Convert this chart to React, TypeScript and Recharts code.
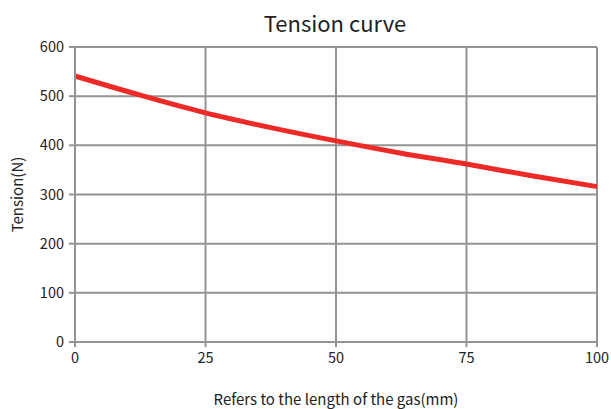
import React from "react";
import { LineChart, Line, XAxis, YAxis, CartesianGrid, Label } from "recharts";

const lengths = [0, 12.5, 25, 37.5, 50, 62.5, 75, 87.5, 100];
const tensions = [541, 502, 466, 436, 409, 384, 362, 338, 316];
const xTicks = [0, 25, 50, 75, 100];
const yTicks = [0, 100, 200, 300, 400, 500, 600];

const data = lengths.map((x, i) => ({ x, tension: tensions[i] }));

const FONT = '"Noto Sans CJK SC", "Noto Sans", sans-serif';
const GRID = "#939393";

export default function App() {
  return (
    <div style={{ position: "absolute", left: 0, top: 0, width: 611, height: 409, background: "#fff", fontFamily: FONT }}>
      <div
        style={{
          position: "absolute",
          left: 0,
          width: 670,
          top: 7,
          textAlign: "center",
          fontSize: 22,
          color: "#222",
          lineHeight: "30px",
        }}
      >
        Tension curve
      </div>
      <LineChart width={611} height={409} data={data} margin={{ top: 47, right: 14, left: 0, bottom: 0 }}>
        <CartesianGrid stroke={GRID} strokeWidth={2} />
        <XAxis
          dataKey="x"
          type="number"
          domain={[0, 100]}
          ticks={xTicks}
          height={67}
          tickSize={5}
          tickMargin={6}
          axisLine={{ stroke: GRID, strokeWidth: 2 }}
          tickLine={{ stroke: GRID, strokeWidth: 2 }}
          tick={{ fill: "#222", fontSize: 14.5, fontFamily: FONT }}
        >
          <Label
            value="Refers to the length of the gas(mm)"
            position="insideBottom"
            offset={0}
            dy={-4}
            style={{ fill: "#222", fontSize: 15, fontFamily: FONT }}
          />
        </XAxis>
        <YAxis
          type="number"
          domain={[0, 600]}
          ticks={yTicks}
          width={75}
          tickSize={6}
          tickMargin={5}
          axisLine={{ stroke: GRID, strokeWidth: 2 }}
          tickLine={{ stroke: GRID, strokeWidth: 2 }}
          tick={{ fill: "#222", fontSize: 14.5, fontFamily: FONT }}
        >
          <Label
            value="Tension(N)"
            angle={-90}
            position="insideLeft"
            offset={18}
            style={{ textAnchor: "middle", fill: "#222", fontSize: 15, fontFamily: FONT }}
          />
        </YAxis>
        <Line
          type="monotone"
          dataKey="tension"
          stroke="#ee2a27"
          strokeWidth={5}
          dot={false}
          isAnimationActive={false}
        />
      </LineChart>
    </div>
  );
}
